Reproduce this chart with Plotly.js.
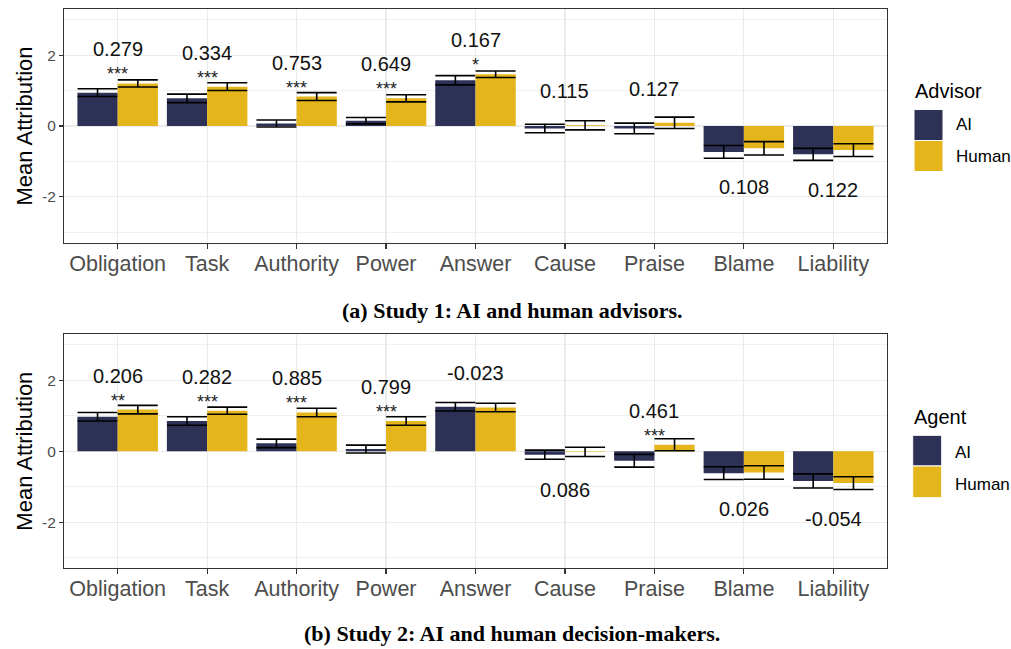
<!DOCTYPE html>
<html>
<head>
<meta charset="utf-8">
<script src="https://cdn.plot.ly/plotly-3.0.1.min.js"></script>
<style>html,body{margin:0;padding:0;background:#fff;}#chart{width:1011px;height:649px;}</style>
</head>
<body>
<div id="chart"></div>
<script>
// ---------- data ----------
const categories = ["Obligation","Task","Authority","Power","Answer","Cause","Praise","Blame","Liability"];

// Study 1: AI vs human advisors
const s1AiMean  = [0.94, 0.78, 0.07, 0.15, 1.29, -0.07, -0.07, -0.73, -0.80];
const s1AiSe    = [0.11, 0.12, 0.10, 0.09, 0.13, 0.12, 0.15, 0.18, 0.17];
const s1HumMean = [1.20, 1.11, 0.83, 0.78, 1.46, 0.02, 0.09, -0.63, -0.68];
const s1HumSe   = [0.10, 0.11, 0.11, 0.10, 0.09, 0.13, 0.16, 0.19, 0.18];
const s1Diff    = ["0.279","0.334","0.753","0.649","0.167","0.115","0.127","0.108","0.122"];
const s1Stars   = ["***","***","***","***","*","","","",""];

// Study 2: AI vs human decision-makers
const s2AiMean  = [0.97, 0.85, 0.22, 0.06, 1.25, -0.10, -0.27, -0.62, -0.84];
const s2AiSe    = [0.12, 0.12, 0.12, 0.11, 0.12, 0.13, 0.18, 0.18, 0.20];
const s2HumMean = [1.17, 1.14, 1.09, 0.85, 1.23, -0.02, 0.18, -0.60, -0.90];
const s2HumSe   = [0.12, 0.10, 0.12, 0.12, 0.12, 0.13, 0.17, 0.19, 0.18];
const s2Diff    = ["0.206","0.282","0.885","0.799","-0.023","0.086","0.461","0.026","-0.054"];
const s2Stars   = ["**","***","***","***","","","***","",""];

const groupNames = ["AI","Human"];
const legendTitles = ["Advisor","Agent"];
const captions = ["(a) Study 1: AI and human advisors.","(b) Study 2: AI and human decision-makers."];

// ---------- style ----------
const W = 1011, H = 649;
const NAVY = "#2d3156", GOLD = "#e4b61c";
const SANS = "Liberation Sans, Arial, sans-serif";
const px = v => v / W;
const py = v => 1 - v / H;

function barTrace(means, ses, name, color, xa, ya) {
  return {
    type: "bar", x: categories, y: means, name: name,
    marker: {color: color, line: {width: 0}},
    error_y: {type: "data", array: ses, visible: true, color: "#000", thickness: 1.6, width: 20},
    xaxis: xa, yaxis: ya, showlegend: false, hoverinfo: "x+y"
  };
}

const data = [
  barTrace(s1AiMean, s1AiSe, groupNames[0], NAVY, "x", "y"),
  barTrace(s1HumMean, s1HumSe, groupNames[1], GOLD, "x", "y"),
  barTrace(s2AiMean, s2AiSe, groupNames[0], NAVY, "x2", "y2"),
  barTrace(s2HumMean, s2HumSe, groupNames[1], GOLD, "x2", "y2")
];

function xAxis(anchor) {
  return {
    type: "category", range: [-0.6, 8.6], domain: [px(64), px(887)], anchor: anchor,
    showgrid: true, gridcolor: "#ebebeb", gridwidth: 1.1,
    showline: true, mirror: true, linecolor: "#333333", linewidth: 1.1,
    ticks: "outside", ticklen: 5, tickcolor: "#333333", tickwidth: 1.1,
    ticklabelstandoff: -4,
    tickfont: {family: SANS, size: 21.5, color: "#4d4d4d"},
    zeroline: false, fixedrange: true
  };
}
function yAxis(domain, anchor) {
  return {
    range: [-3.3, 3.3], domain: domain, anchor: anchor,
    tickvals: [-2, 0, 2], ticktext: ["-2","0","2"],
    showgrid: true, gridcolor: "#ebebeb", gridwidth: 1.1,
    minor: {tickvals: [-3, -1, 1, 3], showgrid: true, gridcolor: "#f0f0f0", gridwidth: 1, ticks: ""},
    showline: true, mirror: true, linecolor: "#333333", linewidth: 1.1,
    ticks: "outside", ticklen: 4, tickcolor: "#333333", tickwidth: 1.1,
    tickfont: {family: SANS, size: 15.5, color: "#4d4d4d"},
    title: {text: "Mean Attribution", font: {family: SANS, size: 22, color: "#000"}, standoff: 3},
    zeroline: false, fixedrange: true
  };
}

const annotations = [];
function addLabels(aiMean, humMean, diffs, stars, xa, ya) {
  categories.forEach((c, i) => {
    const hi = Math.max(aiMean[i], humMean[i]);
    const lo = Math.min(aiMean[i], humMean[i]);
    const above = hi > 0;
    const yLab = above ? hi + 0.96 : lo - 1.0;
    annotations.push({
      xref: xa, yref: ya, x: c, y: yLab,
      text: diffs[i], showarrow: false, xanchor: "center", yanchor: "middle",
      font: {family: SANS, size: 20, color: "#111"}
    });
    if (stars[i]) {
      // placed just beneath the number label
      annotations.push({
        xref: xa, yref: ya, x: c, y: yLab, yshift: -13,
        text: stars[i], showarrow: false, xanchor: "center", yanchor: "top",
        font: {family: SANS, size: 18, color: "#222"}
      });
    }
  });
}
addLabels(s1AiMean, s1HumMean, s1Diff, s1Stars, "x", "y");
addLabels(s2AiMean, s2HumMean, s2Diff, s2Stars, "x2", "y2");

// legends (drawn as keys + real text)
const shapes = [];
const legendSpec = [
  {title: legendTitles[0], tx: 912.7, ty: 91.5, bx0: 914, bx1: 943, by: [109.5, 140.5, 171.5], lx: 954, ly: [125, 156.5]},
  {title: legendTitles[1], tx: 911.7, ty: 417, bx0: 912.7, bx1: 941.7, by: [435.3, 466, 497.7], lx: 953, ly: [452.7, 484.3]}
];
legendSpec.forEach(L => {
  annotations.push({xref: "paper", yref: "paper", x: px(L.tx), y: py(L.ty), text: L.title, showarrow: false,
    xanchor: "left", yanchor: "middle", font: {family: SANS, size: 20, color: "#000"}});
  [NAVY, GOLD].forEach((col, k) => {
    shapes.push({type: "rect", xref: "paper", yref: "paper",
      x0: px(L.bx0), x1: px(L.bx1), y0: py(L.by[k + 1]), y1: py(L.by[k]),
      fillcolor: col, line: {color: "#ffffff", width: 1}});
    annotations.push({xref: "paper", yref: "paper", x: px(L.lx), y: py(L.ly[k]), text: groupNames[k], showarrow: false,
      xanchor: "left", yanchor: "middle", font: {family: SANS, size: 17, color: "#000"}});
  });
});

// captions
[[captions[0], 311], [captions[1], 633]].forEach(([t, y]) => {
  annotations.push({xref: "paper", yref: "paper", x: px(512), y: py(y), text: "<b>" + t + "</b>", showarrow: false,
    xanchor: "center", yanchor: "middle", font: {family: "Liberation Serif, Times New Roman, serif", size: 22, color: "#000"}});
});

const layout = {
  width: W, height: H, margin: {l: 0, r: 0, t: 0, b: 0},
  paper_bgcolor: "#fff", plot_bgcolor: "#fff",
  barmode: "group", bargap: 0.1, bargroupgap: 0,
  showlegend: false,
  xaxis: xAxis("y"),
  yaxis: yAxis([py(243), py(9)], "x"),
  xaxis2: xAxis("y2"),
  yaxis2: yAxis([py(568.3), py(334)], "x2"),
  annotations: annotations, shapes: shapes
};

Plotly.newPlot("chart", data, layout, {staticPlot: true, displayModeBar: false});
</script>
</body>
</html>
